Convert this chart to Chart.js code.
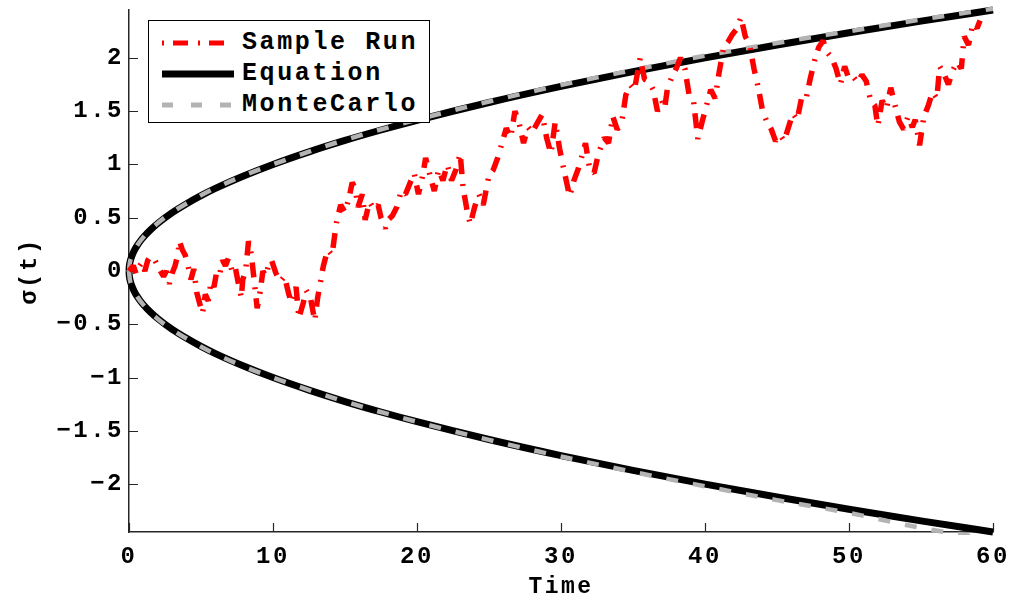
<!DOCTYPE html>
<html>
<head>
<meta charset="utf-8">
<script src="https://cdn.jsdelivr.net/npm/chart.js@4.4.1/dist/chart.umd.min.js"></script>
<style>
body { margin: 0; background: #fff; }
#wrap { position: relative; width: 1015px; height: 601px; }
#legend {
    position: absolute; left: 148px; top: 20px; width: 280px; height: 101px;
    border: 1.5px solid #000; background: #fff;
    font: bold 25px "Liberation Mono", "Courier New", monospace; letter-spacing: 2.6px; color: #000;
}
.row { position: absolute; left: 0; height: 31px; display: flex; align-items: center; white-space: nowrap; }
.row svg { margin-left: 13px; width: 72px; height: 12px; }
.row span { margin-left: 8px; }
</style>
</head>
<body>
<div id="wrap">
    <canvas id="chart" width="1015" height="601"></canvas>
    <div id="legend"></div>
</div>
<script>
// series names, same order as the legend
var seriesNames = ['Sample Run', 'Equation', 'MonteCarlo'];

// axis ticks
var xTicks = [0, 10, 20, 30, 40, 50, 60];
var yTicks = [-2, -1.5, -1, -0.5, 0, 0.5, 1, 1.5, 2];

// Equation curve (upper branch and lower branch)
var eqTime  = [0, 0.02, 0.05, 0.1, 0.2, 0.35, 0.5, 0.75, 1, 1.5, 2, 3, 4, 5, 6, 8, 10, 12.5, 15, 17.5, 20, 25, 30, 35, 40, 45, 50, 55, 60];
var eqUpper = [0, 0.045, 0.071, 0.1, 0.141, 0.187, 0.224, 0.274, 0.316, 0.387, 0.447, 0.548, 0.632, 0.707, 0.775, 0.894, 1.0, 1.118, 1.225, 1.323, 1.414, 1.581, 1.732, 1.871, 2.0, 2.121, 2.236, 2.345, 2.449];
var eqLower = [0, -0.045, -0.071, -0.1, -0.141, -0.187, -0.224, -0.274, -0.316, -0.387, -0.447, -0.548, -0.632, -0.707, -0.775, -0.894, -1.0, -1.118, -1.225, -1.323, -1.414, -1.581, -1.732, -1.871, -2.0, -2.121, -2.236, -2.345, -2.449];

// MonteCarlo envelope
var mcTime  = [0, 0.05, 0.2, 0.5, 1, 2, 3, 5, 7.5, 10, 15, 20, 25, 30, 35, 40, 45, 50, 55, 60];
var mcUpper = [0, 0.07, 0.14, 0.225, 0.318, 0.45, 0.55, 0.71, 0.87, 1.0, 1.23, 1.42, 1.59, 1.745, 1.885, 2.02, 2.14, 2.25, 2.36, 2.46];
var mcLower = [0, -0.07, -0.14, -0.225, -0.318, -0.45, -0.55, -0.71, -0.87, -1.0, -1.225, -1.415, -1.585, -1.74, -1.885, -2.02, -2.15, -2.27, -2.41, -2.52];

// one sample run [time, sigma]
var sampleRun = [
    [0, 0], [0.3, 0.05], [0.5, -0.03], [0.7, 0.04], [0.9, 0.08], [1.1, 0.0], [1.3, 0.1], [1.5, 0.14], [1.8, 0.1], [2.1, 0.02],
    [2.4, -0.05], [2.6, 0.0], [2.8, -0.12], [3.0, -0.02], [3.2, 0.05], [3.4, 0.16], [3.5, 0.28], [3.7, 0.2], [3.9, 0.15], [4.1, 0.05],
    [4.3, -0.08], [4.5, 0.02], [4.7, -0.2], [4.9, -0.3], [5.1, -0.4], [5.3, -0.22], [5.5, -0.28], [5.7, -0.1],
    [5.9, -0.15], [6.1, 0.0], [6.3, -0.03], [6.5, 0.1], [6.7, 0.05], [6.9, 0.12], [7.2, -0.02], [7.4, 0.02], [7.6, -0.12], [7.8, -0.25],
    [7.9, -0.08], [8.1, 0.0], [8.3, 0.28], [8.5, 0.15], [8.7, -0.1], [8.9, -0.35], [9.1, -0.2], [9.3, 0.0],
    [9.5, -0.05], [9.7, 0.06], [9.9, 0.1], [10.2, -0.02], [10.5, -0.1], [10.8, -0.05], [11.1, -0.22], [11.3, -0.3], [11.6, -0.15],
    [11.8, -0.44], [12.1, -0.3], [12.3, -0.18], [12.6, -0.25], [12.9, -0.47], [13.1, -0.25], [13.3, -0.1], [13.5, 0.05], [13.8, 0.2],
    [14.1, 0.15], [14.4, 0.45], [14.7, 0.62], [15.0, 0.55], [15.3, 0.7], [15.5, 0.83], [15.7, 0.78], [15.9, 0.6],
    [16.2, 0.72], [16.4, 0.48], [16.7, 0.65], [17.0, 0.58], [17.3, 0.62], [17.5, 0.5], [17.8, 0.4], [18.0, 0.48],
    [18.3, 0.52], [18.6, 0.6], [18.9, 0.75], [19.2, 0.72], [19.5, 0.82], [19.8, 0.92], [20.1, 0.72], [20.4, 0.9],
    [20.6, 1.06], [20.9, 0.9], [21.2, 0.75], [21.5, 0.95], [21.8, 0.85], [22.1, 1.0], [22.4, 0.85], [22.7, 0.95],
    [23.0, 1.1], [23.2, 0.78], [23.5, 0.55], [23.7, 0.44], [24.0, 0.6], [24.3, 0.72], [24.6, 0.62], [25.0, 0.9],
    [25.3, 0.95], [25.6, 1.06], [25.9, 1.2], [26.2, 1.34], [26.5, 1.25], [26.8, 1.5], [27.1, 1.38], [27.4, 1.2],
    [27.7, 1.35], [28.0, 1.3], [28.4, 1.4], [28.7, 1.47], [29.0, 1.25], [29.3, 1.1], [29.6, 1.4], [29.9, 1.15],
    [30.2, 0.95], [30.6, 0.7], [30.9, 0.85], [31.2, 0.96], [31.5, 1.1], [31.7, 1.2], [32.0, 0.95], [32.3, 0.92],
    [32.6, 1.1], [33.0, 1.25], [33.3, 1.2], [33.6, 1.45], [33.9, 1.33], [34.2, 1.38], [34.5, 1.65], [34.8, 1.75],
    [35.1, 1.7], [35.5, 2.0], [35.8, 1.8], [36.1, 1.78], [36.4, 1.7], [36.7, 1.5], [37.0, 1.6], [37.2, 1.53],
    [37.4, 1.72], [37.7, 1.82], [38.0, 1.9], [38.3, 2.0], [38.6, 1.9], [38.9, 1.65], [39.2, 1.6], [39.5, 1.24],
    [39.8, 1.4], [40.1, 1.55], [40.4, 1.7], [40.7, 1.62], [41.0, 1.88], [41.3, 2.1], [41.6, 2.15], [41.9, 2.22],
    [42.2, 2.27], [42.5, 2.38], [42.8, 2.2], [43.1, 2.12], [43.4, 1.9], [43.7, 1.72], [44.0, 1.5], [44.3, 1.4],
    [44.6, 1.33], [44.9, 1.22], [45.2, 1.28], [45.5, 1.22], [45.8, 1.35], [46.1, 1.48], [46.4, 1.42], [46.7, 1.62],
    [47.0, 1.6], [47.3, 1.8], [47.6, 1.97], [47.9, 2.1], [48.2, 2.16], [48.5, 2.05], [48.8, 2.0], [49.1, 1.9],
    [49.4, 1.75], [49.7, 1.92], [50.0, 1.8], [50.3, 1.82], [50.6, 1.77], [50.9, 1.84], [51.2, 1.78], [51.5, 1.6],
    [51.8, 1.55], [52.0, 1.36], [52.3, 1.6], [52.6, 1.52], [52.9, 1.72], [53.2, 1.55], [53.5, 1.4], [53.8, 1.33],
    [54.1, 1.45], [54.4, 1.35], [54.6, 1.42], [54.9, 1.18], [55.2, 1.45], [55.5, 1.55], [55.8, 1.68], [56.1, 1.62],
    [56.3, 1.92], [56.6, 1.85], [56.9, 1.75], [57.2, 1.88], [57.5, 1.96], [57.8, 1.9], [58.0, 2.2], [58.3, 2.12],
    [58.6, 2.32], [58.9, 2.28], [59.1, 2.35]
];

var redDash = [15, 10, 2, 9];
var greyDash = [12, 15];
var FONT = '"Liberation Mono", "Courier New", monospace';

function xy(times, values)
{
    return times.map(function(t, i) { return { x: t, y: values[i] }; });
}

// ticks pointing into the plot, like the original axes
var innerTicks = {
    id: 'innerTicks',
    beforeDatasetsDraw: function(chart)
    {
        var ctx = chart.ctx;
        var area = chart.chartArea;
        var xs = chart.scales.x, ys = chart.scales.y;
        ctx.save();
        ctx.strokeStyle = '#262626';
        ctx.lineWidth = 1.2;
        ctx.beginPath();
        xTicks.forEach(function(v) {
            var px = Math.round(xs.getPixelForValue(v)) + 0.5;
            ctx.moveTo(px, area.bottom);
            ctx.lineTo(px, area.bottom - 9);
        });
        yTicks.forEach(function(v) {
            var py = Math.round(ys.getPixelForValue(v)) + 0.5;
            ctx.moveTo(area.left, py);
            ctx.lineTo(area.left + 9, py);
        });
        ctx.stroke();
        ctx.restore();
    }
};

// wide letter spacing of the original typeface
var spacing = {
    id: 'spacing',
    beforeLayout: function(chart) { chart.ctx.letterSpacing = '2.5px'; },
    beforeDraw: function(chart) { chart.ctx.letterSpacing = '2.5px'; }
};

function no_edge_padding(s)
{
    s.paddingTop = 0;
    s.paddingBottom = 0;
    s.paddingLeft = 0;
    s.paddingRight = 0;
}

var chart = new Chart(document.getElementById('chart'), {
    type: 'line',
    data: {
        datasets: [
            { label: seriesNames[0], data: sampleRun.map(function(p) { return { x: p[0], y: p[1] }; }),
              borderColor: '#ff0000', borderWidth: 5.5, borderDash: redDash, borderJoinStyle: 'bevel',
              pointRadius: 0, tension: 0, order: 0, clip: 4 },
            { label: seriesNames[2], data: xy(mcTime, mcUpper),
              borderColor: '#b3b3b3', borderWidth: 4.5, borderDash: greyDash,
              pointRadius: 0, cubicInterpolationMode: 'monotone', order: 1, clip: 3 },
            { label: seriesNames[2] + ' (lower)', data: xy(mcTime, mcLower),
              borderColor: '#b3b3b3', borderWidth: 4.5, borderDash: greyDash,
              pointRadius: 0, cubicInterpolationMode: 'monotone', order: 1, clip: 3 },
            { label: seriesNames[1], data: xy(eqTime, eqUpper),
              borderColor: '#000000', borderWidth: 7,
              pointRadius: 0, cubicInterpolationMode: 'monotone', order: 2, clip: 4 },
            { label: seriesNames[1] + ' (lower)', data: xy(eqTime, eqLower),
              borderColor: '#000000', borderWidth: 7,
              pointRadius: 0, cubicInterpolationMode: 'monotone', order: 2, clip: 4 }
        ]
    },
    options: {
        responsive: false,
        animation: false,
        devicePixelRatio: 1,
        layout: { padding: { top: 10, right: 22, left: 0, bottom: 0 } },
        plugins: { legend: { display: false }, tooltip: { enabled: false } },
        scales: {
            x: {
                type: 'linear', min: 0, max: 60,
                afterBuildTicks: function(s) { s.ticks = xTicks.map(function(v) { return { value: v }; }); },
                afterFit: function(s) { s.height = 69; no_edge_padding(s); },
                grid: { display: false, drawTicks: false },
                border: { display: true, color: '#262626', width: 1.5 },
                ticks: { color: '#000', padding: 11, maxRotation: 0, font: { family: FONT, size: 24, weight: 'bold' } },
                title: { display: true, text: 'Time', color: '#000', padding: { top: 4, bottom: 0 },
                         font: { family: FONT, size: 23, weight: 'bold' } }
            },
            y: {
                type: 'linear', min: -2.449, max: 2.449,
                afterBuildTicks: function(s) { s.ticks = yTicks.map(function(v) { return { value: v }; }); },
                afterFit: function(s) { s.width = 129; no_edge_padding(s); },
                grid: { display: false, drawTicks: false },
                border: { display: true, color: '#262626', width: 1.5 },
                ticks: { color: '#000', padding: 5, font: { family: FONT, size: 24, weight: 'bold' },
                         callback: function(v) { return String(v).replace('-', '\u2212'); } },
                title: { display: true, text: 'σ(t)', color: '#000', padding: { top: 16, bottom: 0 },
                         font: { family: FONT, size: 24, weight: 'bold' } }
            }
        }
    },
    plugins: [innerTicks, spacing]
});

// legend box inside the axes, upper left
function build_legend()
{
    var styles = [
        { color: '#ff0000', width: 5, dash: redDash, offset: 15 + 10 },
        { color: '#000000', width: 7, dash: [], offset: 0 },
        { color: '#b3b3b3', width: 5, dash: [11, 18], offset: 0 }
    ];
    var legend = document.getElementById('legend');
    seriesNames.forEach(function(name, i) {
        var st = styles[i];
        var row = document.createElement('div');
        row.className = 'row';
        row.style.top = (6 + i * 31) + 'px';
        row.innerHTML =
            '<svg viewBox="0 0 72 12"><line x1="0" y1="6" x2="72" y2="6" stroke="' + st.color +
            '" stroke-width="' + st.width + '" stroke-dasharray="' + (st.dash.length ? st.dash.join(' ') : 'none') +
            '" stroke-dashoffset="' + st.offset + '"/></svg><span>' + name + '</span>';
        legend.appendChild(row);
    });
}
build_legend();
</script>
</body>
</html>
